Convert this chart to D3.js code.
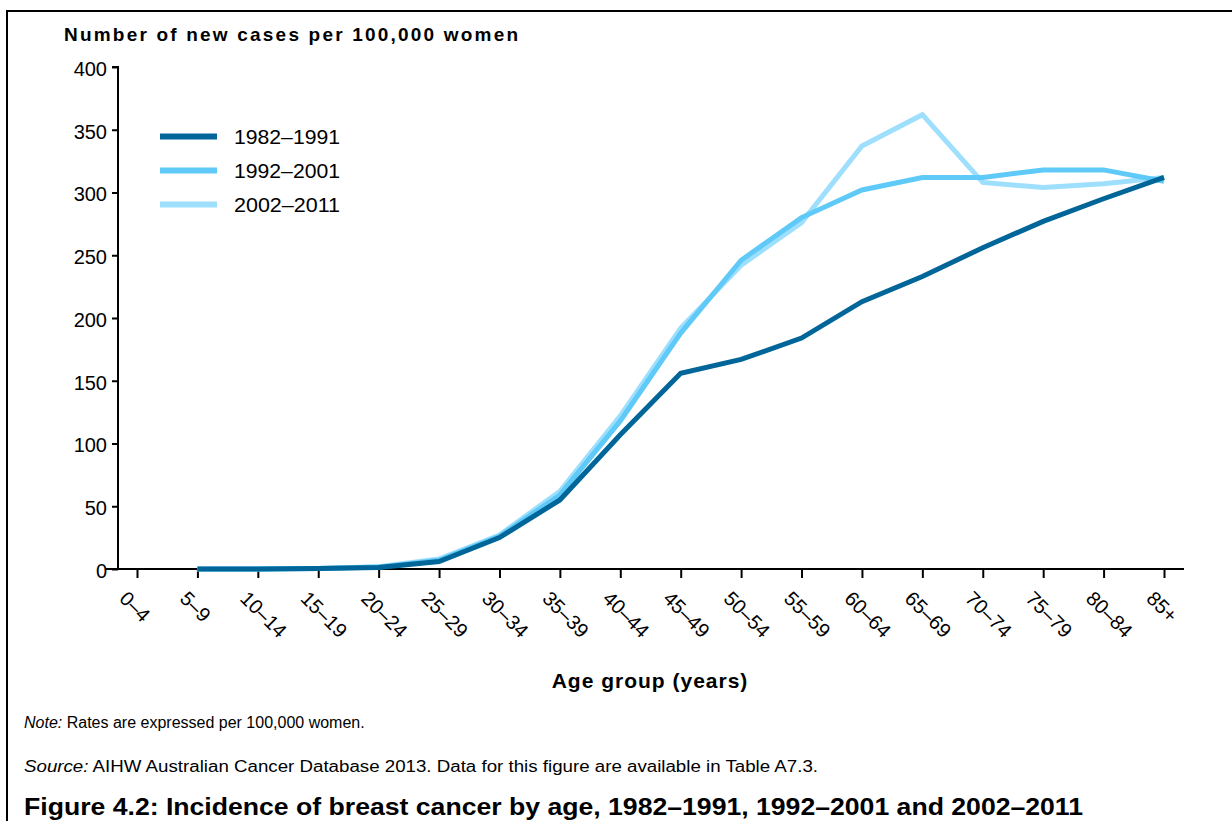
<!DOCTYPE html>
<html>
<head>
<meta charset="utf-8">
<script src="https://cdn.jsdelivr.net/npm/d3@7"></script>
<style>
  body { margin: 0; background: #fff; }
  svg { display: block; font-family: Arial, "Liberation Sans", sans-serif; }
</style>
</head>
<body>
<div id="chart"></div>
<script>
const ageGroups = ['0–4', '5–9', '10–14', '15–19', '20–24', '25–29', '30–34', '35–39', '40–44',
    '45–49', '50–54', '55–59', '60–64', '65–69', '70–74', '75–79', '80–84', '85+'];
const seriesNames = ['1982–1991', '1992–2001', '2002–2011'];
const seriesColors = ['#006699', '#5fc9f8', '#9edffd'];
// null = no data for that age group
const rates1982 = [null, 0, 0, 0.3, 1.2, 6, 25, 55, 107, 156, 167, 184, 213, 233, 256, 277, 295, 312];
const rates1992 = [null, 0, 0, 0.3, 1.5, 7, 26, 59, 118, 188, 246, 280, 302, 312, 312, 318, 318, 309];
const rates2002 = [null, 0, 0, 0.4, 1.8, 8, 27, 62, 122, 192, 242, 276, 337, 362, 308, 304, 307, 312];
const yTicks = [0, 50, 100, 150, 200, 250, 300, 350, 400];

const W = 1232, H = 821;
const MARGINS = { left: 118, top: 67, bottom: 569 };

const svg = d3.select('#chart').append('svg').attr('width', W).attr('height', H);

// frame (top and left only)
svg.append('line').attr('x1', 6).attr('x2', W).attr('y1', 11).attr('y2', 11)
    .attr('stroke', '#000').attr('stroke-width', 2);
svg.append('line').attr('x1', 7).attr('x2', 7).attr('y1', 10).attr('y2', H)
    .attr('stroke', '#000').attr('stroke-width', 2);

const x = d3.scalePoint().domain(ageGroups).range([137, 1164]);
const y = d3.scaleLinear().domain([0, 400]).range([MARGINS.bottom, MARGINS.top]);

// y axis
const yAxis = d3.axisLeft(y).tickValues(yTicks).tickSize(6).tickPadding(5);
const yAxisEl = svg.append('g').attr('transform', `translate(${MARGINS.left},0)`).call(yAxis);
yAxisEl.select('.domain').attr('d', `M-6,${y(400)}H0V${y(0)}`).attr('stroke-width', 2);
yAxisEl.selectAll('.tick line').attr('stroke-width', 2);
yAxisEl.selectAll('.tick text').attr('font-size', 20).attr('dy', '0.42em')
    .attr('font-family', 'Arial, "Liberation Sans", sans-serif').attr('fill', '#000');

// x axis
const xAxis = d3.axisBottom(x).tickSize(9).tickFormat('');
const xAxisEl = svg.append('g').attr('transform', `translate(0,${MARGINS.bottom})`).call(xAxis);
xAxisEl.select('.domain').attr('d', 'M105,0H1184').attr('stroke-width', 2);
xAxisEl.selectAll('.tick line').attr('stroke-width', 2);

// rotated tick labels
svg.append('g').selectAll('text').data(ageGroups).join('text')
    .attr('transform', (d) => `translate(${x(d) - 15},${MARGINS.bottom + 27}) rotate(45)`)
    .attr('font-size', 20)
    .attr('text-anchor', 'start')
    .attr('dominant-baseline', 'middle')
    .text((d) => d);

// lines
const seriesData = [rates1982, rates1992, rates2002];
const line = d3.line()
    .defined((d) => d != null)
    .x((d, i) => x(ageGroups[i]))
    .y((d) => y(d));

seriesData.slice().reverse().forEach((vals, ri) => {
    const i = seriesData.length - 1 - ri;
    svg.append('path')
        .datum(vals)
        .attr('fill', 'none')
        .attr('stroke', seriesColors[i])
        .attr('stroke-width', 5)
        .attr('stroke-linejoin', 'miter')
        .attr('d', line);
});

// legend
const legend = svg.append('g');
seriesNames.forEach((name, i) => {
    const ly = 136.5 + i * 34;
    legend.append('line').attr('x1', 160).attr('x2', 217).attr('y1', ly).attr('y2', ly)
        .attr('stroke', seriesColors[i]).attr('stroke-width', 6);
    legend.append('text').attr('x', 234).attr('y', ly + 7).attr('font-size', 20.5)
        .attr('textLength', 106).attr('lengthAdjust', 'spacingAndGlyphs').text(name);
});

// titles
svg.append('text').attr('x', 64).attr('y', 41).attr('font-size', 19).attr('font-weight', 'bold')
    .attr('letter-spacing', 2.2)
    .text('Number of new cases per 100,000 women');
svg.append('text').attr('x', 650).attr('y', 688).attr('font-size', 21).attr('font-weight', 'bold')
    .attr('text-anchor', 'middle').attr('letter-spacing', 1)
    .text('Age group (years)');

const note = svg.append('text').attr('x', 24).attr('y', 728).attr('font-size', 16);
note.append('tspan').attr('font-style', 'italic').text('Note:');
note.append('tspan').text(' Rates are expressed per 100,000 women.');

const src = svg.append('text').attr('x', 24).attr('y', 772).attr('font-size', 16)
    .attr('textLength', 794).attr('lengthAdjust', 'spacingAndGlyphs');
src.append('tspan').attr('font-style', 'italic').text('Source:');
src.append('tspan').text(' AIHW Australian Cancer Database 2013. Data for this figure are available in Table A7.3.');

svg.append('text').attr('x', 24).attr('y', 815).attr('font-size', 23).attr('font-weight', 'bold')
    .attr('textLength', 1059).attr('lengthAdjust', 'spacingAndGlyphs')
    .text('Figure 4.2: Incidence of breast cancer by age, 1982–1991, 1992–2001 and 2002–2011');
</script>
</body>
</html>
